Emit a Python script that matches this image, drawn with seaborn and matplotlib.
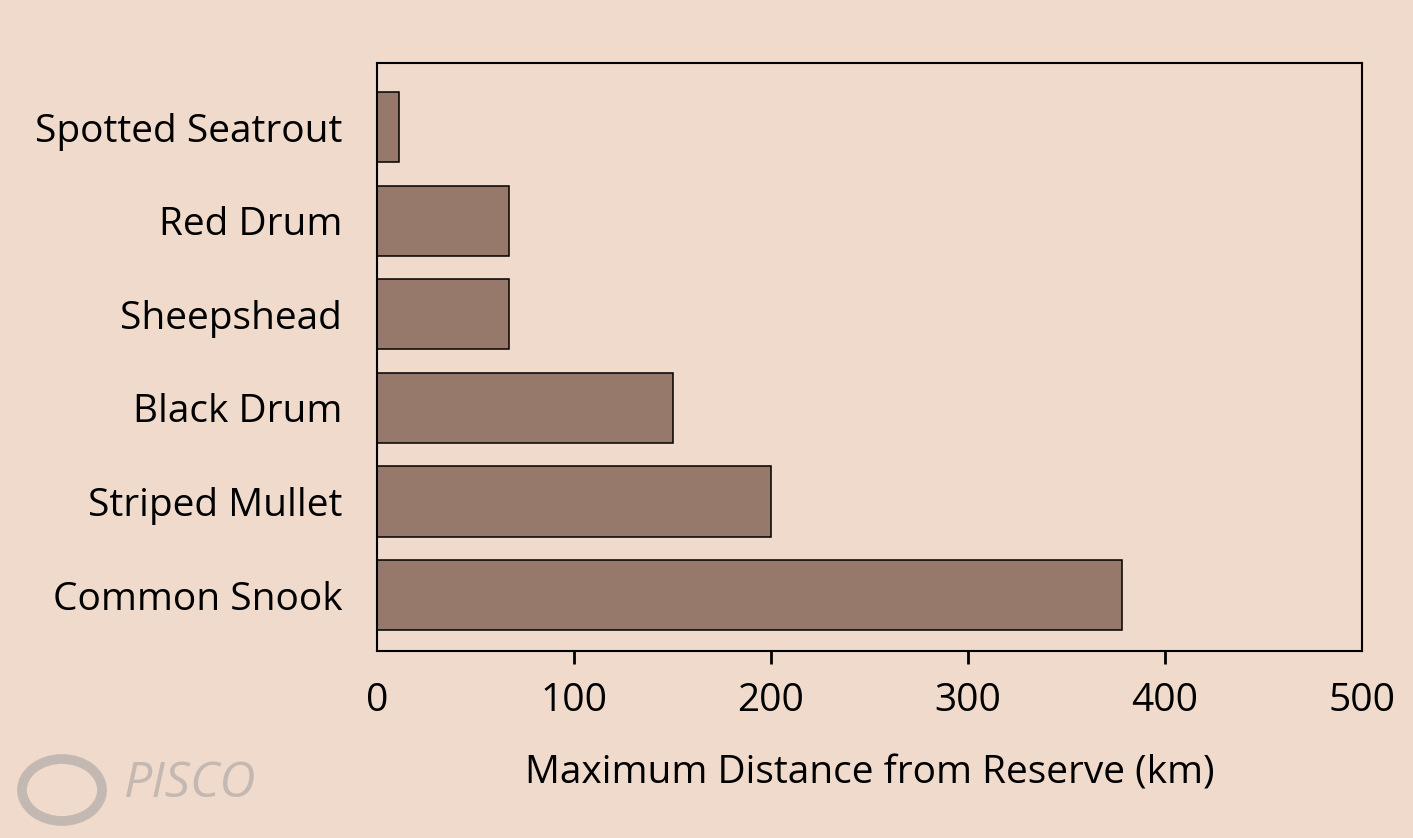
import matplotlib
matplotlib.use("Agg")
import matplotlib.pyplot as plt
from matplotlib.patches import Ellipse
import pandas as pd
import seaborn as sns

# data
species = ["Spotted Seatrout", "Red Drum", "Sheepshead",
           "Black Drum", "Striped Mullet", "Common Snook"]
distance_km = [11, 67, 67, 150, 200, 378]
x_ticks = [0, 100, 200, 300, 400, 500]

bg = "#efdacc"
bar_color = "#96796b"

sns.set_theme(style="white")
plt.rcParams["font.family"] = ["Open Sans", "DejaVu Sans"]
plt.rcParams["text.color"] = "black"
plt.rcParams["axes.labelcolor"] = "black"
plt.rcParams["xtick.color"] = "black"
plt.rcParams["ytick.color"] = "black"

df = pd.DataFrame({"Species": species, "Distance": distance_km})

fig = plt.figure(figsize=(14.13, 8.38), dpi=100, facecolor=bg)
ax = fig.add_axes([377 / 1413, 1 - 651 / 838, (1362 - 377) / 1413, (651 - 63) / 838])
ax.set_facecolor(bg)

sns.barplot(data=df, y="Species", x="Distance", orient="h", color=bar_color,
            saturation=1, width=0.75, edgecolor="black", linewidth=1.1, ax=ax)

ax.set_xlim(0, 500)
ax.set_ylim(5.598, -0.684)
ax.set_xticks(x_ticks)
ax.set_xticklabels([str(t) for t in x_ticks])
ax.set_ylabel("")
ax.set_xlabel("Maximum Distance from Reserve (km)", fontsize=28, labelpad=25)

ax.tick_params(axis="x", direction="out", length=9, width=2, color="black",
               labelsize=28, pad=13, bottom=True)
ax.tick_params(axis="y", length=0, labelsize=28, pad=25)
ticks = ax.xaxis.get_major_ticks()
ticks[0].tick1line.set_visible(False)
ticks[-1].tick1line.set_visible(False)

for s in ax.spines.values():
    s.set_visible(True)
    s.set_color("black")
    s.set_linewidth(1.5)

# PISCO watermark
fig.text(124 / 1413, 1 - 784 / 838, "PISCO", fontsize=36, style="italic",
         color="#c4b8b2", va="center", ha="left")
logo = Ellipse((62 / 1413, 1 - 790 / 838), 80 / 1413, 62 / 838,
               transform=fig.transFigure, fill=False, lw=7, ec="#c4b8b2")
fig.add_artist(logo)

fig.savefig("out.png", dpi=100, facecolor=bg)
